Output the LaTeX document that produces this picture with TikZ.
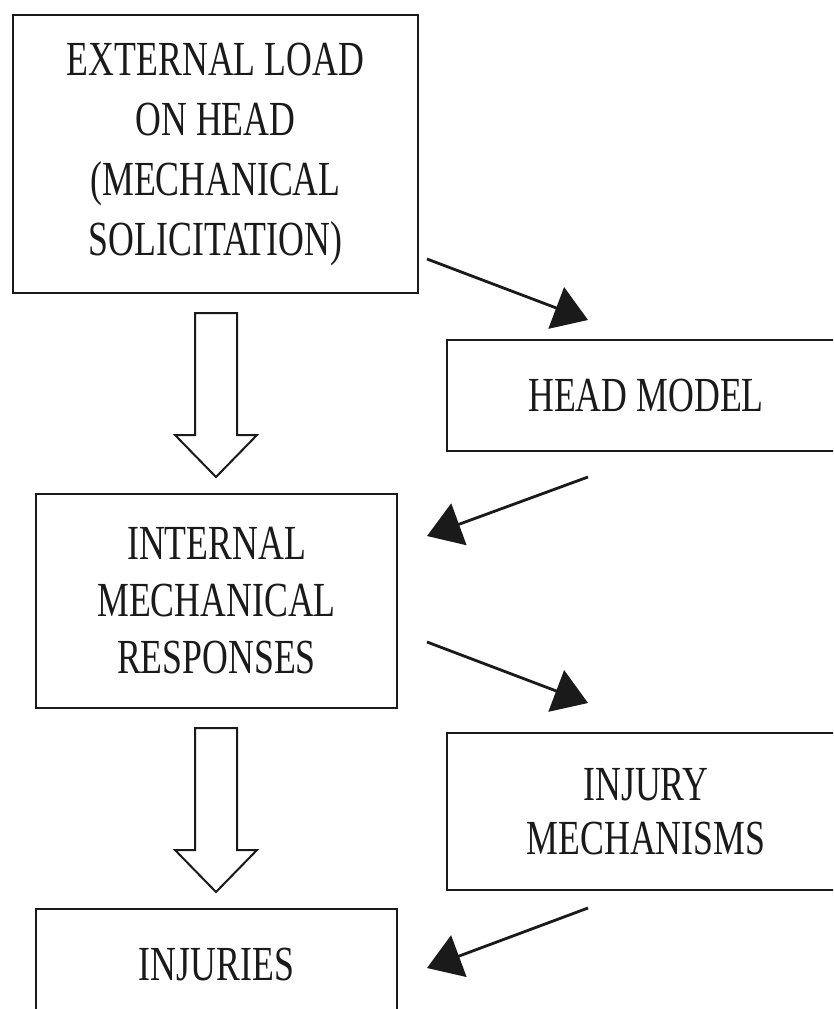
\documentclass[tikz,border=0pt]{standalone}
\usepackage{fontspec}
\setmainfont{Liberation Serif}[FakeStretch=0.73]
\usetikzlibrary{arrows.meta,calc}
\definecolor{ink}{HTML}{1A1A1A}
\tikzset{
  box/.style={draw=ink, line width=2.6pt, rectangle, inner sep=0pt, align=center,
    text=ink, font={\fontsize{49}{57}\selectfont}},
  thinarrow/.style={draw=ink, line width=2.8pt, -{Triangle[length=34pt,width=44pt]}},
  hollowarrow/.pic={
    \draw[draw=ink, line width=2pt, fill=white, line join=miter]
      (-21,0) -- (21,0) -- (21,122) -- (41,122) -- (0,164) -- (-41,122) -- (-21,122) -- cycle;
  }
}
\begin{document}
\begin{tikzpicture}[x=1pt, y=-1pt]
  \useasboundingbox (0,0) rectangle (833,1009);
  \fill[white] (0,0) rectangle (833,1009);
  \clip (0,0) rectangle (833,1009);

  \node[box, minimum width=405pt, minimum height=278pt,
        font={\fontsize{49}{60}\selectfont}] (ext) at (215.5,154)
    {EXTERNAL LOAD\\ON HEAD\\(MECHANICAL\\SOLICITATION)};
  \node[box, minimum width=398pt, minimum height=111pt] (head) at (646,395.5)
    {HEAD MODEL};
  \node[box, minimum width=361pt, minimum height=214pt] (internal) at (216.5,601)
    {INTERNAL\\MECHANICAL\\RESPONSES};
  \node[box, minimum width=398pt, minimum height=157pt,
        font={\fontsize{49}{54}\selectfont}] (mech) at (646,811.5)
    {INJURY\\MECHANISMS};
  \node[box, minimum width=361pt, minimum height=111pt] (injuries) at (216.5,964.5)
    {INJURIES};

  % hollow block arrows
  \pic at (216,313) {hollowarrow};
  \pic at (216,728) {hollowarrow};

  % thin arrows
  \coordinate (a1s) at (427,259);
  \coordinate (a1e) at (588,320);
  \coordinate (a2s) at (588,477);
  \coordinate (a2e) at (427,536);
  \coordinate (a3s) at (427,642);
  \coordinate (a3e) at (588,703);
  \coordinate (a4s) at (588,908);
  \coordinate (a4e) at (427,968);
  \draw[thinarrow] (a1s) -- (a1e);
  \draw[thinarrow] (a2s) -- (a2e);
  \draw[thinarrow] (a3s) -- (a3e);
  \draw[thinarrow] (a4s) -- (a4e);
\end{tikzpicture}
\end{document}
